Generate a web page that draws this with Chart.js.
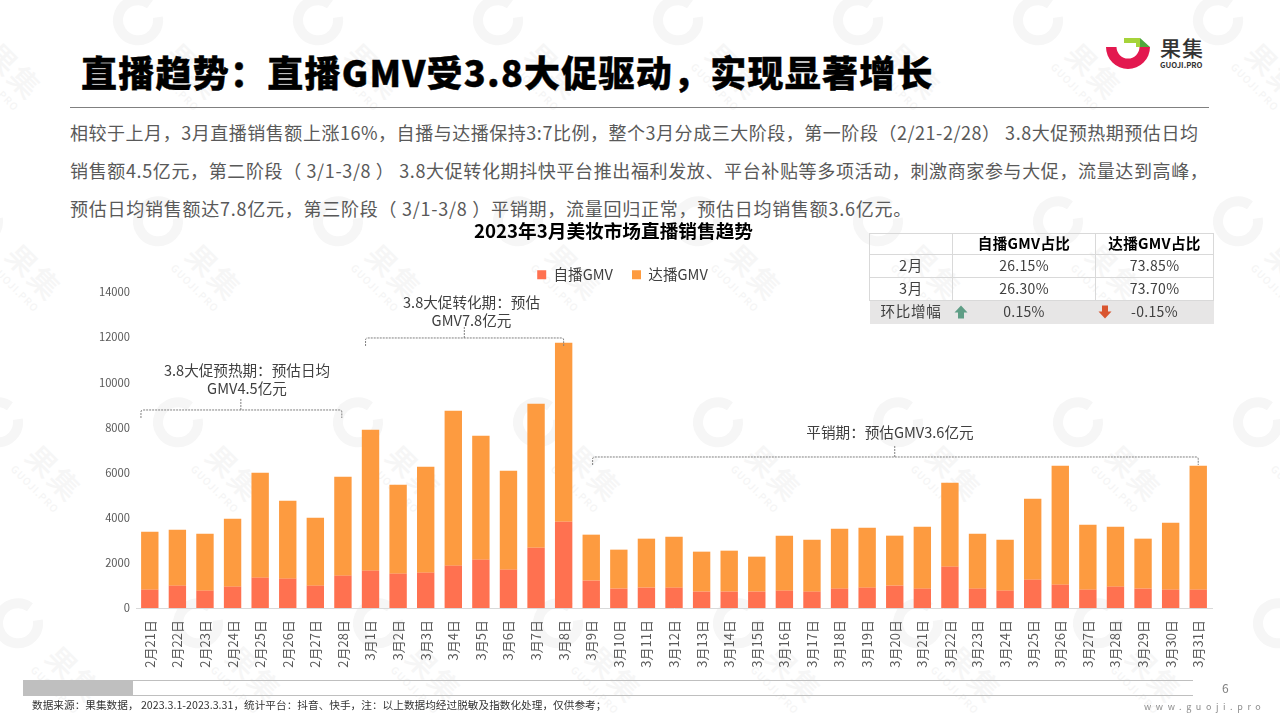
<!DOCTYPE html>
<html lang="zh">
<head>
<meta charset="utf-8">
<script src="https://cdn.jsdelivr.net/npm/chart.js@4/dist/chart.umd.min.js"></script>
<style>
html,body{margin:0;padding:0;background:#fff;width:1280px;height:720px;overflow:hidden;font-family:"Noto Sans CJK SC","Noto Sans",sans-serif;}
.abs{position:absolute;white-space:nowrap;}
#wm{position:absolute;left:0;top:0;width:1280px;height:720px;overflow:hidden;}
.wm1{position:absolute;color:#f6f6f6;font-size:30px;font-weight:500;letter-spacing:2px;transform:translate(-50%,-50%) rotate(45deg);white-space:nowrap;line-height:1;}
.wm2{position:absolute;color:#f5f5f5;font-size:10px;font-weight:500;letter-spacing:1px;transform:translate(-50%,-50%) rotate(45deg);white-space:nowrap;line-height:1;}
#title{left:81px;top:45px;font-size:36px;line-height:52px;font-weight:900;color:#000;letter-spacing:1.25px;-webkit-text-stroke:.4px #000;}
.rule{position:absolute;background:#808080;height:1px;}
.body{left:70px;font-size:18px;line-height:24px;color:#595959;}
.note{position:absolute;transform:translateX(-50%);text-align:center;font-size:14.6px;line-height:18px;color:#404040;white-space:nowrap;}
table{position:absolute;left:869px;top:233px;width:344px;height:90px;border-collapse:collapse;table-layout:fixed;font-size:14px;color:#404040;letter-spacing:.3px;}
td,th{border:1px solid #d9d9d9;text-align:center;padding:0 0 2px 0;line-height:18px;}
td:first-child{font-size:14.6px;letter-spacing:.6px;}
th{color:#000;font-weight:700;font-size:14.6px;}
tr.g td{background:#e7e6e6;border:0;}
#chart{position:absolute;left:0;top:0;}
</style>
</head>
<body>
<div id="wm"></div>

<div class="abs" id="title">直播趋势：直播GMV受3.8大促驱动，实现显著增长</div>
<svg class="abs" style="left:1100px;top:30px" width="60" height="50" viewBox="1100 30 60 50">
  <path d="M1106 47 A22 22 0 0 0 1150 47 H1139.5 A11.5 11.5 0 0 1 1116.5 47 Z" fill="#e3184f"/>
  <path d="M1124 38 H1140 V47 H1136 V43 H1124 Z" fill="#a6d33a"/>
  <path d="M1140 38 L1150 47 H1140 Z" fill="#4fa83d"/>
</svg>
<div class="abs" style="left:1160px;top:34px;font-size:21px;line-height:26px;color:#333;font-weight:500;letter-spacing:1px;">果集</div>
<div class="abs" style="left:1160px;top:59px;font-size:7.7px;line-height:11px;color:#333;font-weight:700;">GUOJI.PRO</div>
<div class="rule" style="left:70px;top:107px;width:1139px;"></div>

<div class="abs body" style="top:120px;letter-spacing:.53px;">相较于上月，3月直播销售额上涨16%，自播与达播保持3:7比例，整个3月分成三大阶段，第一阶段（2/21-2/28） 3.8大促预热期预估日均</div>
<div class="abs body" style="top:158px;letter-spacing:.63px;">销售额4.5亿元，第二阶段（ 3/1-3/8 ） 3.8大促转化期抖快平台推出福利发放、平台补贴等多项活动，刺激商家参与大促，流量达到高峰，</div>
<div class="abs body" style="top:196px;letter-spacing:.75px;">预估日均销售额达7.8亿元，第三阶段（ 3/1-3/8 ）平销期，流量回归正常，预估日均销售额3.6亿元。</div>

<canvas id="chart" width="1226" height="720" style="width:1226px;height:720px"></canvas>

<div class="note" style="left:247px;top:361px;">3.8大促预热期：预估日均<br>GMV4.5亿元</div>
<div class="note" style="left:471.5px;top:293px;">3.8大促转化期：预估<br>GMV7.8亿元</div>
<div class="note" style="left:890px;top:423px;">平销期：预估GMV3.6亿元</div>

<table>
  <colgroup><col style="width:83px"><col style="width:143px"><col style="width:118px"></colgroup>
  <tr style="height:21px"><th></th><th>自播GMV占比</th><th>达播GMV占比</th></tr>
  <tr style="height:23px"><td>2月</td><td>26.15%</td><td>73.85%</td></tr>
  <tr style="height:23px"><td>3月</td><td>26.30%</td><td>73.70%</td></tr>
  <tr class="g" style="height:23px"><td>环比增幅</td><td>0.15%</td><td>-0.15%</td></tr>
</table>
<svg class="abs" style="left:954px;top:305px" width="14" height="14" viewBox="0 0 14 14"><path d="M7 0.5 L13.5 7.5 H10 V13.5 H4 V7.5 H0.5 Z" fill="#5f9e86"/></svg>
<svg class="abs" style="left:1098px;top:305px" width="14" height="14" viewBox="0 0 14 14"><path d="M7 13.5 L13.5 6.5 H10 V0.5 H4 V6.5 H0.5 Z" fill="#d9552f"/></svg>

<div class="rule" style="left:23px;top:680px;width:1170px;background:#bfbfbf;"></div>
<div class="rule" style="left:23px;top:695px;width:1170px;background:#bfbfbf;"></div>
<div class="abs" style="left:23px;top:681px;width:110px;height:14px;background:#bfbfbf;"></div>
<div class="abs" style="left:1222px;top:680px;font-size:12px;line-height:16px;color:#7f7f7f;">6</div>
<div class="abs" style="left:32px;top:698px;font-size:10.67px;line-height:14px;color:#333;">数据来源：果集数据， 2023.3.1-2023.3.31，统计平台：抖音、快手，注：以上数据均经过脱敏及指数化处理，仅供参考；</div>
<div class="abs" style="left:1144px;top:701px;font-size:9px;line-height:12px;color:#8c8c8c;letter-spacing:4.6px;">www.guoji.pro</div>

<script>
const categories = ["2月21日","2月22日","2月23日","2月24日","2月25日","2月26日","2月27日","2月28日",
  "3月1日","3月2日","3月3日","3月4日","3月5日","3月6日","3月7日","3月8日","3月9日","3月10日",
  "3月11日","3月12日","3月13日","3月14日","3月15日","3月16日","3月17日","3月18日","3月19日","3月20日",
  "3月21日","3月22日","3月23日","3月24日","3月25日","3月26日","3月27日","3月28日","3月29日","3月30日","3月31日"];
const selfGmv = [812,990,768,945,1344,1300,990,1433,
  1654,1521,1566,1876,2142,1699,2673,3825,1211,857,
  901,901,724,724,724,768,724,857,901,990,
  857,1831,857,768,1255,1034,812,945,857,812,812];
const creatorGmv = [2570,2480,2526,3013,4652,3456,3013,4386,
  6248,3944,4696,6868,5494,4386,6381,7932,2038,1728,
  2171,2260,1772,1816,1551,2437,2304,2658,2659,2215,
  2747,3723,2437,2260,3590,5273,2880,2659,2215,2969,5495];
const yTicks = [0,2000,4000,6000,8000,10000,12000,14000];
// Bracket annotations: [first category position, last category position, value of the bar line]
const brackets = [[-0.32,6.96,8773],[7.82,15,11963],[16.05,38,6690]];
const bracketStems = [3.3,11.4,27];

// watermark
const wm = document.getElementById('wm');
let wmHtml = '<svg width="1280" height="720" style="position:absolute;left:0;top:0">';
let wmText = '';
for (let k = -1; k < 5; k++) {
  for (let n = -2; n < 8; n++) {
    const gx = 138 + k*20 + n*180, gy = 20 + k*201;
    wmHtml += `<path d="M${gx+14} ${gy-14} A20 20 0 1 0 ${gx+20} ${gy}" transform="rotate(-8 ${gx} ${gy})" fill="none" stroke="#f6f6f6" stroke-width="10"/>`;
    wmText += `<div class="wm1" style="left:${gx+57}px;top:${gy+50}px">果集</div><div class="wm2" style="left:${gx+37}px;top:${gy+67}px">GUOJI.PRO</div>`;
  }
}
wm.innerHTML = wmHtml + '</svg>' + wmText;

const bracketPlugin = {
  id: 'brackets',
  afterLayout(chart) { chart.legend.left += 9; chart.legend.right += 9; },
  afterDatasetsDraw(chart) {
    const x = chart.scales.x, y = chart.scales.y, c = chart.ctx;
    c.save();
    c.strokeStyle = '#7f7f7f'; c.lineWidth = 1; c.setLineDash([2,1]);
    brackets.forEach((b, i) => {
      const x0 = x.getPixelForValue(b[0]), x1 = x.getPixelForValue(b[1]), yy = y.getPixelForValue(b[2]);
      c.beginPath();
      c.moveTo(x0, yy + 8); c.lineTo(x0, yy + 2); c.quadraticCurveTo(x0, yy, x0 + 2, yy);
      c.lineTo(x1 - 2, yy); c.quadraticCurveTo(x1, yy, x1, yy + 2); c.lineTo(x1, yy + 8);
      const sx = x.getPixelForValue(bracketStems[i]);
      c.moveTo(sx, yy); c.lineTo(sx, yy - 12);
      c.stroke();
    });
    c.restore();
  }
};

const cjk = '"Noto Sans CJK SC","Noto Sans",sans-serif';
new Chart(document.getElementById('chart'), {
  type: 'bar',
  data: { labels: categories, datasets: [
    { label: '自播GMV', data: selfGmv, backgroundColor: '#ff7150', stack: 's', barPercentage: .63, categoryPercentage: 1 },
    { label: '达播GMV', data: creatorGmv, backgroundColor: '#fd9b40', stack: 's', barPercentage: .63, categoryPercentage: 1 }
  ]},
  plugins: [bracketPlugin],
  options: {
    responsive: false, animation: false, devicePixelRatio: 1,
    layout: { padding: { top: 0, right: 13, bottom: 0, left: 14 } },
    plugins: {
      tooltip: { enabled: false },
      title: { display: true, text: '2023年3月美妆市场直播销售趋势', color: '#000',
        font: { family: cjk, size: 18.67, weight: 'bold' }, padding: { top: 220, bottom: 6 } },
      legend: { position: 'top',
        labels: { boxWidth: 9, boxHeight: 9, color: '#404040', padding: 19, font: { family: cjk, size: 14.6 } } }
    },
    scales: {
      x: { stacked: true, grid: { display: false, drawTicks: false },
        border: { color: '#d9d9d9' },
        afterFit: s => { s.height = 112; },
        ticks: { minRotation: 90, maxRotation: 90, autoSkip: false, padding: 12, color: '#595959', font: { family: cjk, size: 13 } } },
      y: { stacked: true, min: 0, max: 14000, grid: { display: false, drawTicks: false },
        border: { display: false },
        afterFit: s => { s.width = 122; },
        afterBuildTicks: s => { s.ticks = yTicks.map(v => ({ value: v })); },
        ticks: { padding: 6, color: '#595959', font: { family: cjk, size: 11.2 }, callback: v => String(v) } }
    }
  }
});
</script>
</body>
</html>
